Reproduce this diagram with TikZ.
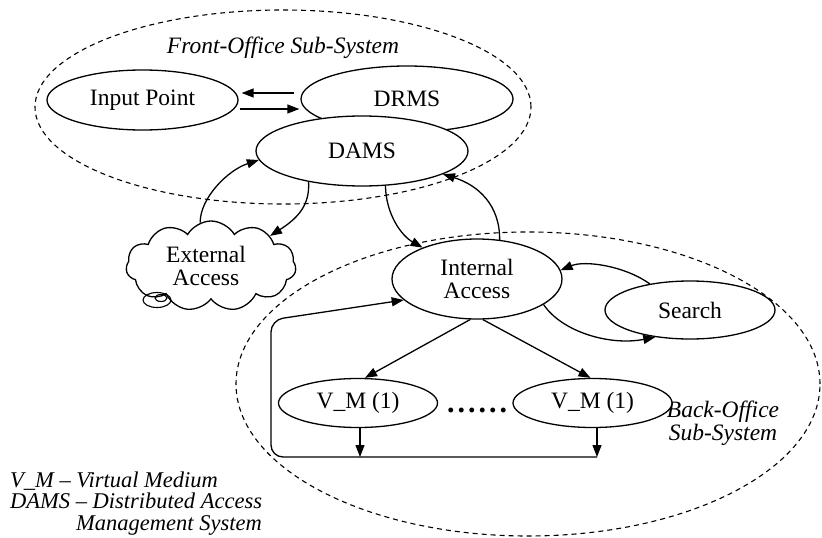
\documentclass[tikz,border=0pt]{standalone}
\usepackage{fontspec}
\setmainfont{Liberation Serif}
\usetikzlibrary{shapes.geometric,shapes.symbols,arrows.meta}
\begin{document}
\begin{tikzpicture}[x=1pt,y=-1pt,
  txt/.style={font=\fontsize{23.5}{23}\selectfont},
  el/.style={draw,ellipse,line width=1.3pt,inner sep=0pt,fill=white,txt,align=center},
  dashel/.style={draw,ellipse,line width=1.1pt,dash pattern=on 5pt off 4pt,inner sep=0pt},
  arr/.style={-{Triangle[length=12pt,width=9pt]},line width=1.3pt},
  ital/.style={font=\fontsize{23.5}{23}\selectfont\itshape},
  legend/.style={font=\fontsize{22.5}{20}\selectfont\itshape,inner sep=0pt,text height=14pt,text depth=2pt}]
\useasboundingbox (0,0) rectangle (822,538);
% subsystems
\node[dashel,minimum width=496,minimum height=194] (fo) at (283,107) {};
\node[dashel,minimum width=584,minimum height=304] (bo) at (528,384) {};
\node[ital,anchor=base,inner sep=0pt] (folbl) at (283,53) {Front-Office Sub-System};
\node[ital,anchor=base,inner sep=0pt,align=center] (bolbl) at (723,440) {Back-Office\\Sub-System};
% main nodes
\node[el,minimum width=191,minimum height=60] (ip) at (142.5,100) {Input Point};
\node[el,minimum width=212,minimum height=66] (drms) at (407,99) {DRMS};
\node[el,minimum width=212,minimum height=70] (dams) at (362,151) {DAMS};
\node[draw,cloud,cloud puffs=11,cloud puff arc=120,aspect=1.9,line width=1.3pt,
      minimum width=170,minimum height=90,inner sep=0pt,fill=white] (ea) at (211,266) {};
\node[txt,align=center,inner sep=0pt] (eatxt) at (206,266) {External\\Access};
\node[el,minimum width=170,minimum height=80] (ia) at (477,279) {Internal\\Access};
\node[el,minimum width=170,minimum height=58] (search) at (690,310) {Search};
\node[el,minimum width=159,minimum height=49] (vm1) at (358,403) {V\_M (1)};
\node[el,minimum width=159,minimum height=49] (vm2) at (592.5,403) {V\_M (1)};
\node[inner sep=0pt,anchor=base,font=\fontsize{30}{30}\selectfont\bfseries] (dots) at (477,412)
  {.\kern3pt.\kern3pt.\kern3pt.\kern3pt.\kern3pt.};
% thought tail
\draw[line width=1.1pt] (157,300) ellipse [x radius=14, y radius=7.5];
\draw[line width=1.1pt] (161,298) ellipse [x radius=6, y radius=3.5];
% legend
\node[legend,anchor=base west] (lg1) at (10,487) {V\_M -- Virtual Medium};
\node[legend,anchor=base west] (lg2) at (10,508) {DAMS -- Distributed Access};
\node[legend,anchor=base west] (lg3) at (76,530) {Management System};
% connectors
\draw[arr] ([shift={(-6pt,6pt)}]drms.west) -- ([shift={(3pt,7pt)}]ip.east);
\draw[arr] ([shift={(1pt,-9pt)}]ip.east) -- ([shift={(-1pt,-10pt)}]drms.west);
\draw[arr] (ea.104) .. controls (200,198) and (228,170) .. (dams.185);
\draw[arr] (dams.210) .. controls (310,205) and (298,218) .. (ea.27);
\draw[arr] (dams.304) .. controls (386,215) and (402,236) .. (ia.150);
\draw[arr] (ia.60) .. controls (500,205) and (478,185) .. (dams.344);
\draw[arr] (search.147) .. controls (625,266) and (585,260) .. (ia.6);
\draw[arr] (ia.339) .. controls (562,332) and (610,346) .. (search.218);
\draw[arr] ([xshift=-7pt]ia.south) -- ([xshift=7pt]vm1.north);
\draw[arr] ([xshift=6pt]ia.south) -- ([xshift=-2pt]vm2.north);
\coordinate (b1) at (360,457);
\coordinate (b2) at (597,457);
\coordinate (c1) at (271,457);
\coordinate (c2) at (271,320);
\draw[arr] (vm1.south -| b1) -- (b1);
\draw[arr] (vm2.south -| b2) -- (b2);
\draw[arr,rounded corners=12pt] (b2) -- (c1) -- (c2) -- (ia.196);
\end{tikzpicture}
\end{document}
